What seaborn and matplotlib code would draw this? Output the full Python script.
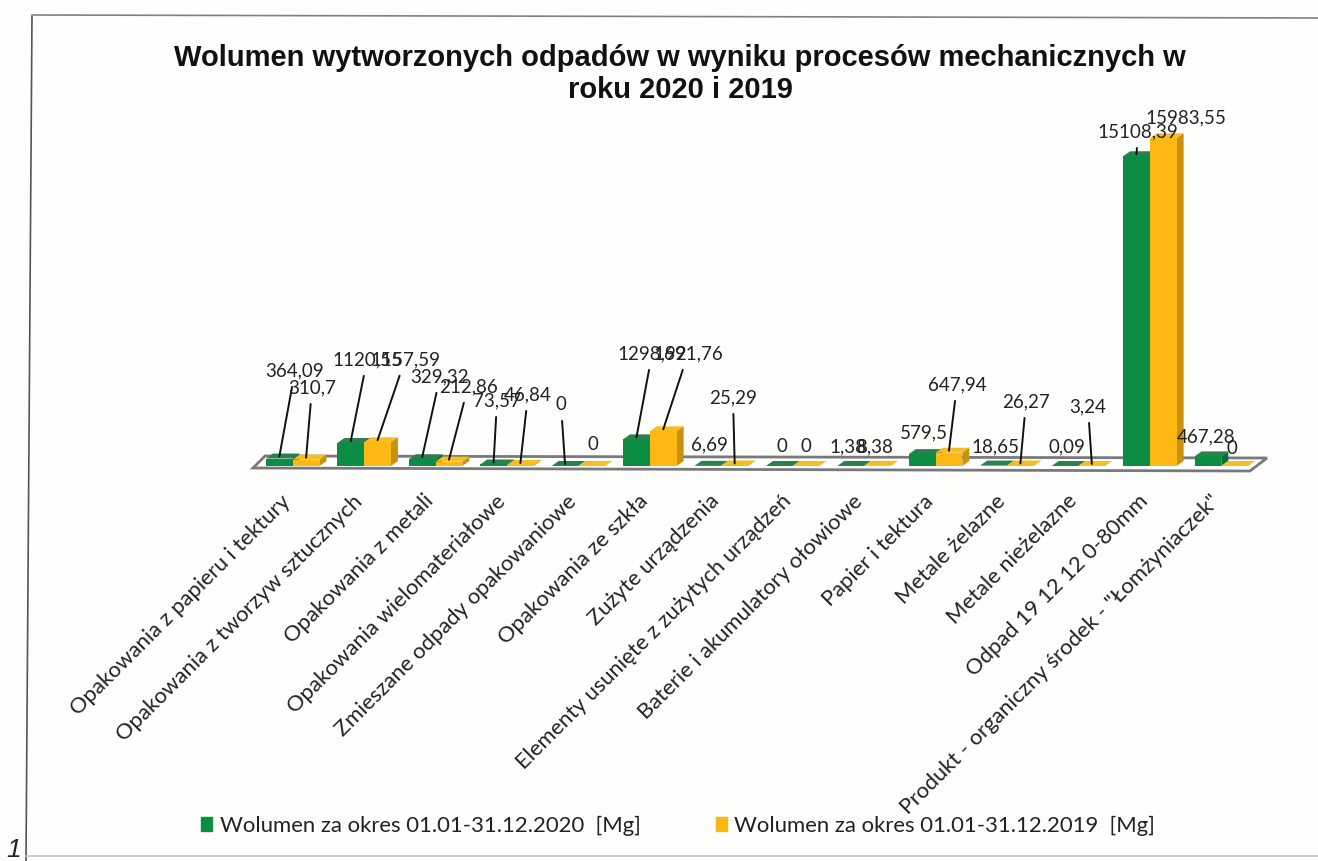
import matplotlib
matplotlib.use('Agg')
import matplotlib.pyplot as plt
import matplotlib.transforms as mtransforms
import pandas as pd
import seaborn as sns
from matplotlib.lines import Line2D
from matplotlib.patches import Patch, Polygon

categories = [
    'Opakowania z papieru i tektury', 'Opakowania z tworzyw sztucznych',
    'Opakowania z metali', 'Opakowania wielomateriałowe',
    'Zmieszane odpady opakowaniowe', 'Opakowania ze szkła', 'Zużyte urządzenia',
    'Elementy usunięte z zużytych urządzeń', 'Baterie i akumulatory ołowiowe',
    'Papier i tektura', 'Metale żelazne', 'Metale nieżelazne',
    'Odpad 19 12 12 0-80mm', 'Produkt - organiczny środek - "Łomżyniaczek"',
]
values_2020 = [364.09, 1120.55, 329.32, 73.57, 0, 1298.92, 6.69, 0, 1.38, 579.5,
               18.65, 0.09, 15108.39, 467.28]
values_2019 = [310.7, 1157.59, 212.86, 46.84, 0, 1691.76, 25.29, 0, 8.38, 647.94,
               26.27, 3.24, 15983.55, 0]
series_names = ['Wolumen za okres 01.01-31.12.2020  [Mg]',
                'Wolumen za okres 01.01-31.12.2019  [Mg]']

W, H = 1318, 861
GREEN, YELLOW = '#0B8E44', '#FDB813'

# label centres in image pixels, and whether a leader line is drawn
label_pos_2020 = [(295, 371), (367, 360), (440, 377), (497, 401), (561, 405), (652, 354),
                  (709, 445), (782, 446), (848, 447), (924, 433), (995, 447), (1067, 447),
                  (1138, 132), (1206, 437)]
label_pos_2019 = [(312, 388), (405, 360), (468, 387), (528, 395), (593, 445), (688, 354),
                  (733, 398), (806, 446), (875, 447), (957, 385), (1026, 402), (1088, 407),
                  (1186, 118), (1232, 448)]
leader_2020 = [1, 1, 1, 1, 1, 1, 0, 0, 0, 0, 0, 0, 1, 0]
leader_2019 = [1, 1, 1, 1, 0, 1, 1, 0, 0, 1, 1, 1, 0, 0]

sns.set_theme(style='white')
plt.rcParams['font.family'] = ['Lato', 'DejaVu Sans']

df = pd.DataFrame({
    'category': categories * 2,
    'value': values_2020 + values_2019,
    'series': [series_names[0]] * len(categories) + [series_names[1]] * len(categories),
})

fig = plt.figure(figsize=(W / 100, H / 100), dpi=100, facecolor='#FEFEFD')
left, right, top, base = 257, 1257, 100, 466
ax = fig.add_axes([left / W, (H - base) / H, (right - left) / W, (base - top) / H])
ax.patch.set_alpha(0)

sns.barplot(data=df, x='category', y='value', hue='series', order=categories,
            hue_order=series_names, palette=[GREEN, YELLOW], width=0.75, gap=0,
            saturation=1, legend=False, linewidth=0, ax=ax)
ax.set_xlim(-0.5, 13.5)
ax.set_ylim(0, (base - top) / 0.0205)
sns.despine(ax=ax, left=True, bottom=True)
ax.set_xlabel('')
ax.set_ylabel('')
ax.set_yticks([])
ax.tick_params(axis='x', length=0, pad=18)
ax.set_xticks(range(len(categories)))
ax.set_xticklabels(categories, rotation=45, ha='right', rotation_mode='anchor',
                   fontsize=15.8, color='#222222')
shift = mtransforms.ScaledTranslation(-12 / 100, 0, fig.dpi_scale_trans)
for lab in ax.get_xticklabels():
    lab.set_transform(lab.get_transform() + shift)

# pixel to data helpers for the fake 3D depth
px = (13.5 + 0.5) / (right - left)
py = ax.get_ylim()[1] / (base - top)
dx, dy = 7 * px, 5 * py

# floor of the 3D box
ax.add_patch(Polygon([(-0.5 - 4 * px, -2 * py), (13.5 - 7 * px, -5 * py), (13.5 + 10 * px, 8 * py),
                      (-0.5 + 8 * px, 10 * py)],
                     closed=True, facecolor='white', edgecolor='#77797A', linewidth=2,
                     zorder=0.5, clip_on=False))

for container, top_col, side_col in zip(ax.containers, ['#2B8050', '#F5BE22'], ['#0A6E36', '#C6920F']):
    for bar in container:
        x0, w, h = bar.get_x(), bar.get_width(), bar.get_height()
        bar.set_zorder(3)
        ax.add_patch(Polygon([(x0, h), (x0 + w, h), (x0 + w + dx, h + dy), (x0 + dx, h + dy)],
                             closed=True, facecolor=top_col, edgecolor='none', zorder=2.5, clip_on=False))
        ax.add_patch(Polygon([(x0 + w, 0), (x0 + w + dx, dy), (x0 + w + dx, h + dy), (x0 + w, h)],
                             closed=True, facecolor=side_col, edgecolor='none', zorder=2.5, clip_on=False))

for container, vals, positions, leaders in zip(ax.containers, [values_2020, values_2019],
                                               [label_pos_2020, label_pos_2019],
                                               [leader_2020, leader_2019]):
    for bar, v, (lx, ly), lead in zip(container, vals, positions, leaders):
        label = f'{v:.10g}'.replace('.', ',')
        props = dict(arrowstyle='-', color='#111111', lw=1.4, shrinkA=3, shrinkB=0) if lead else None
        ax.annotate(label, xy=(bar.get_x() + bar.get_width() / 2, v + 2 * py),
                    xytext=(lx, H - ly), textcoords='figure pixels', ha='center', va='center',
                    fontsize=13.5, color='#222222', arrowprops=props, zorder=5, annotation_clip=False)

fig.text(680 / W, (H - 74) / H, 'Wolumen wytworzonych odpadów w wyniku procesów mechanicznych w\nroku 2020 i 2019',
         ha='center', va='center', fontsize=21, fontweight='bold', family='Liberation Sans',
         color='#111111', linespacing=1.15)

fig.legend(handles=[Patch(color=GREEN, label=series_names[0]), Patch(color=YELLOW, label=series_names[1])],
           loc='center', bbox_to_anchor=(678 / W, (H - 826) / H), ncol=2, frameon=False, fontsize=15.9,
           handlelength=0.5, handleheight=0.6, handletextpad=0.35, columnspacing=3.4, labelcolor='#222222')

# edges of the scanned page frame
for xs, ys, col in [((32, 26), (16, 861), '#555555'), ((32, 1318), (15, 18), '#808080'),
                    ((26, 1318), (856, 856), '#C4C4C4')]:
    fig.add_artist(Line2D([x / W for x in xs], [(H - y) / H for y in ys], transform=fig.transFigure,
                          color=col, linewidth=1.2))
fig.text(14 / W, (H - 850) / H, '1', fontsize=19, style='italic', color='#222222', ha='center', va='center',
         family='Liberation Sans')

fig.savefig('out.png', dpi=100, facecolor=fig.get_facecolor())
